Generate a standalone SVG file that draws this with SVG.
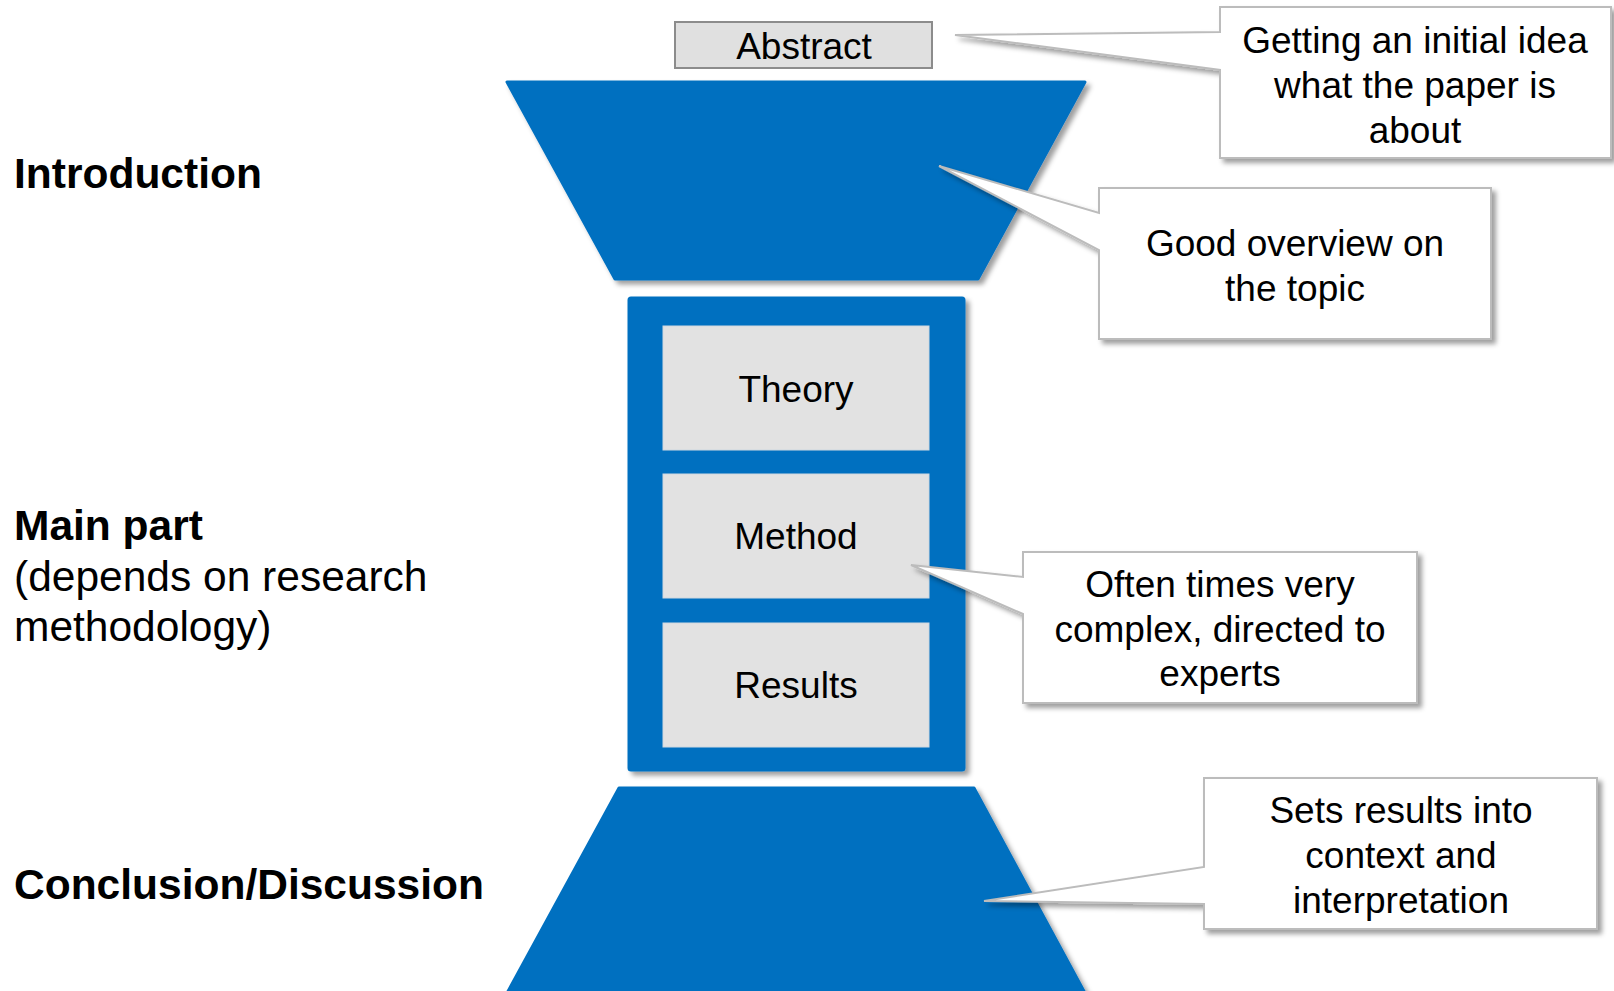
<svg xmlns="http://www.w3.org/2000/svg" width="1614" height="991" viewBox="0 0 1614 991">
<defs>
<filter id="sh" x="-10%" y="-10%" width="130%" height="130%">
<feDropShadow dx="4" dy="4" stdDeviation="2.5" flood-color="#000" flood-opacity="0.38"/>
</filter>
<style>
.blue{fill:#0070c0;stroke:#0070c0;stroke-width:3;stroke-linejoin:round;filter:url(#sh)}
.inner{fill:#e2e2e2;stroke:#cfd8e0;stroke-width:1}
.call{fill:#fff;stroke:#bcbcbc;stroke-width:2;filter:url(#sh)}
.t{font-family:"Liberation Sans",Arial,sans-serif;font-size:37px;fill:#000;text-anchor:middle}
.lb{font-family:"Liberation Sans",Arial,sans-serif;font-size:42.5px;fill:#000;font-weight:bold}
.lr{font-family:"Liberation Sans",Arial,sans-serif;font-size:42.5px;fill:#000}
</style>
</defs>
<rect width="1614" height="991" fill="#fff"/>
<g id="labels">
<text class="lb" x="14" y="188">Introduction</text>
<text class="lb" x="14" y="540">Main part</text>
<text class="lr" x="14" y="591">(depends on research</text>
<text class="lr" x="14" y="641">methodology)</text>
<text class="lb" x="14" y="899">Conclusion/Discussion</text>
</g>
<g id="abstract">
<rect x="675" y="22" width="257" height="46" fill="#e0e0e0" stroke="#8c8c8c" stroke-width="2"/>
<text class="t" x="804" y="59">Abstract</text>
</g>
<g id="introduction">
<path class="blue" d="M507,82 H1085 L978,279 H615 Z"/>
</g>
<g id="main">
<rect class="blue" x="629" y="298" width="335" height="472" rx="2"/>
</g>
<g id="theory">
<rect class="inner" x="663" y="326" width="266" height="124"/>
<text class="t" x="796" y="402">Theory</text>
</g>
<g id="method">
<rect class="inner" x="663" y="474" width="266" height="124"/>
<text class="t" x="796" y="549">Method</text>
</g>
<g id="results">
<rect class="inner" x="663" y="623" width="266" height="124"/>
<text class="t" x="796" y="698">Results</text>
</g>
<g id="conclusion">
<path class="blue" d="M619,788 H974 L1086,995 H506 Z"/>
</g>
<g id="connectors"></g>
<g id="callout-abstract">
<path class="call" d="M1220,7 H1611 V158 H1220 V70 L955,35 L1220,32 Z"/>
<text class="t" x="1415" y="53">Getting an initial idea</text>
<text class="t" x="1415" y="98">what the paper is</text>
<text class="t" x="1415" y="143">about</text>
</g>
<g id="callout-intro">
<path class="call" d="M1099,188 H1491 V339 H1099 V250 L939,166 L1099,213 Z"/>
<text class="t" x="1295" y="256">Good overview on</text>
<text class="t" x="1295" y="301">the topic</text>
</g>
<g id="callout-method">
<path class="call" d="M1023,552 H1417 V703 H1023 V614 L911,565 L1023,577 Z"/>
<text class="t" x="1220" y="597">Often times very</text>
<text class="t" x="1220" y="642">complex, directed to</text>
<text class="t" x="1220" y="686">experts</text>
</g>
<g id="callout-conclusion">
<path class="call" d="M1204,778 H1597 V929 H1204 V904 L984,901 L1204,867 Z"/>
<text class="t" x="1401" y="823">Sets results into</text>
<text class="t" x="1401" y="868">context and</text>
<text class="t" x="1401" y="913">interpretation</text>
</g>
</svg>
